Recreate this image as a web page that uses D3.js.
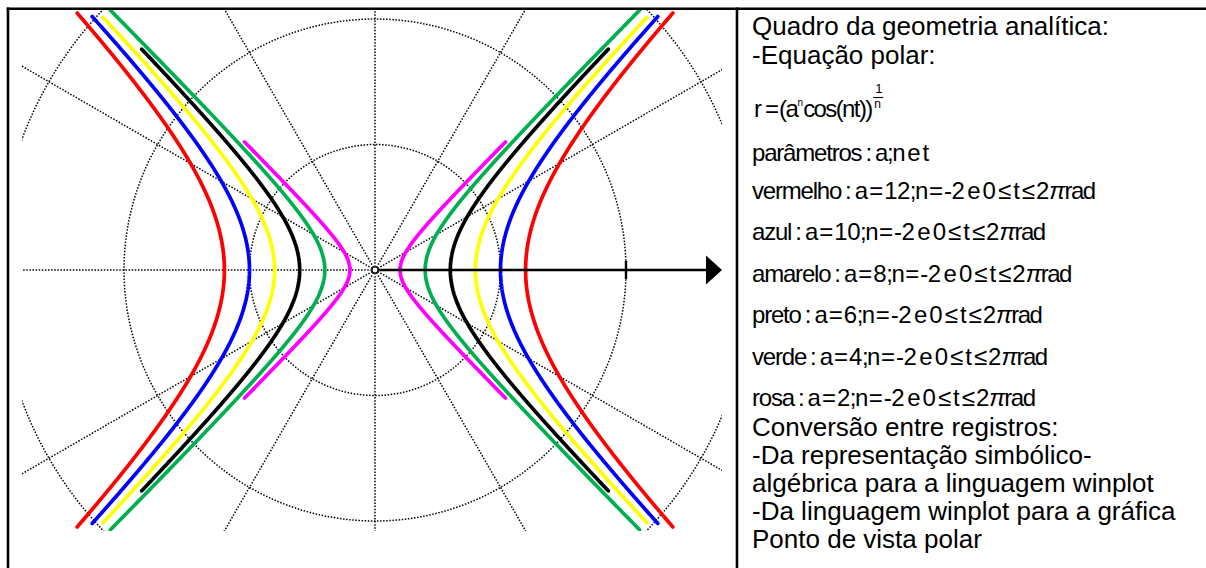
<!DOCTYPE html>
<html>
<head>
<meta charset="utf-8">
<script src="https://cdn.jsdelivr.net/npm/d3@7"></script>
<style>
  html, body { margin: 0; padding: 0; background: #fff; }
  svg { display: block; }
  text { font-family: "Liberation Sans", Arial, Helvetica, sans-serif; fill: #000; }
</style>
</head>
<body>
<svg id="chart" width="1206" height="568"></svg>
<script>
// Family of polar curves r = (a^n cos(n t))^(1/n), here with n = -2
const colorNames = ["vermelho", "azul", "amarelo", "preto", "verde", "rosa"];
const aValues    = [12, 10, 8, 6, 4, 2];
const nValue     = -2;
const colors     = ["#ff0000", "#0000ff", "#ffff00", "#000000", "#00b050", "#ff00ff"];
// largest |y| reached by each traced curve (units)
const yReach     = [20.5, 20.2, 20.2, 17.6, 20.75, 10.3];

// polar grid
const gridRadii  = [10, 20, 30];
const rayAngles  = d3.range(0, 360, 30);
const axisTick   = 20;

// text of the side panel
const headerLines = ["Quadro da geometria analítica:", "-Equação polar:"];
const footerLines = ["Conversão entre registros:", "-Da representação  simbólico-",
                     "algébrica para a linguagem winplot", "-Da linguagem winplot para a gráfica",
                     "Ponto de vista polar"];

const svg = d3.select("#chart");
const cx = 375, cy = 270, k = 12.55;
const x = d3.scaleLinear().domain([-1, 1]).range([cx - k, cx + k]);
const y = d3.scaleLinear().domain([-1, 1]).range([cy + k, cy - k]);
const px = u => x(u) - x(0);

// frame
const frame = svg.append("g").attr("stroke", "#000").attr("stroke-width", 2.6);
frame.append("line").attr("x1", 6.7).attr("x2", 1206).attr("y1", 8.8).attr("y2", 8.8);
frame.append("line").attr("x1", 8).attr("x2", 8).attr("y1", 7.5).attr("y2", 568);
frame.append("line").attr("x1", 737).attr("x2", 737).attr("y1", 7.5).attr("y2", 568);

// plotting window clip
svg.append("clipPath").attr("id", "plotClip")
  .append("rect").attr("x", 22).attr("y", 10).attr("width", 700).attr("height", 521);

const plot = svg.append("g").attr("clip-path", "url(#plotClip)");

// dotted polar grid
const grid = plot.append("g").attr("fill", "none").attr("stroke", "#000")
  .attr("stroke-width", 1.5).attr("stroke-dasharray", "1.5 1.6");
grid.selectAll("circle").data(gridRadii).join("circle")
  .attr("cx", x(0)).attr("cy", y(0)).attr("r", d => px(d));
grid.selectAll("line").data(rayAngles).join("line")
  .attr("x1", x(0)).attr("y1", y(0))
  .attr("x2", d => x(40 * Math.cos(d * Math.PI / 180)))
  .attr("y2", d => y(40 * Math.sin(d * Math.PI / 180)));

// polar axis with arrow and tick
const axis = svg.append("g");
axis.append("line").attr("x1", x(0) + 3).attr("x2", 708).attr("y1", y(0)).attr("y2", y(0))
  .attr("stroke", "#000").attr("stroke-width", 2.4);
axis.append("path").attr("d", `M706,${y(0) - 14.5}L722,${y(0)}L706,${y(0) + 14.5}Z`).attr("fill", "#000");
axis.append("line").attr("x1", x(axisTick)).attr("x2", x(axisTick))
  .attr("y1", y(0) - 9).attr("y2", y(0) + 9).attr("stroke", "#000").attr("stroke-width", 2.4);
axis.append("circle").attr("cx", x(0)).attr("cy", y(0)).attr("r", 3)
  .attr("fill", "#fff").attr("stroke", "#000").attr("stroke-width", 1.2);

// curves
const polarR = (a, n, t) => Math.pow(Math.pow(a, n) * Math.cos(n * t), 1 / n);
const line = d3.line().x(d => x(d[0])).y(d => y(d[1]));
const branches = [[-Math.PI / 4, Math.PI / 4], [3 * Math.PI / 4, 5 * Math.PI / 4]];
const curves = plot.append("g").attr("fill", "none").attr("stroke-width", 3.7)
  .attr("stroke-linecap", "round").attr("stroke-linejoin", "round");
aValues.forEach((a, i) => {
  branches.forEach(([t0, t1]) => {
    const pts = [];
    const N = 6000;
    for (let j = 1; j < N; j++) {
      const t = t0 + (t1 - t0) * j / N;
      const r = polarR(a, nValue, t);
      if (!isFinite(r)) continue;
      const p = [r * Math.cos(t), r * Math.sin(t)];
      if (Math.abs(p[1]) <= yReach[i]) pts.push(p);
    }
    curves.append("path").attr("d", line(pts)).attr("stroke", colors[i]);
  });
});

// side panel
const panel = svg.append("g");
const tx = 752;
headerLines.forEach((s, i) => {
  panel.append("text").attr("x", tx).attr("y", 35 + i * 29).attr("font-size", 26).text(s);
});

// equation r = (a^n cos(nt))^(1/n)
const eq = panel.append("text").attr("x", 754).attr("y", 117).attr("font-size", 24);
eq.append("tspan").text("r");
eq.append("tspan").attr("dx", 3).text("=");
eq.append("tspan").attr("dx", 0).style("letter-spacing", "-1.4px").text("(a");
eq.append("tspan").attr("dy", -11).attr("font-size", 10).text("n");
eq.append("tspan").attr("dy", 11).style("letter-spacing", "-1.6px").text("cos(nt))");
const eb = eq.node().getBBox();
const fx = eb.x + eb.width + 1;
panel.append("text").attr("x", fx + 2).attr("y", 93).attr("font-size", 13).text("1");
panel.append("line").attr("x1", fx).attr("x2", fx + 10).attr("y1", 97.5).attr("y2", 97.5)
  .attr("stroke", "#000").attr("stroke-width", 1.1);
panel.append("text").attr("x", fx + 1).attr("y", 108).attr("font-size", 12).text("n");

// parameter line
const pl = panel.append("text").attr("x", tx).attr("y", 161).attr("font-size", 24);
pl.append("tspan").style("letter-spacing", "-1.2px").text("parâmetros");
pl.append("tspan").attr("dx", 4).text(":");
pl.append("tspan").attr("dx", 3).style("letter-spacing", "-1.4px").text("a;n");
pl.append("tspan").attr("dx", 3).text("e");
pl.append("tspan").attr("dx", 2).text("t");

// one line per curve, built from the same arrays as the curves
colorNames.forEach((name, i) => {
  const t = panel.append("text").attr("x", tx).attr("y", 199 + i * 41.4).attr("font-size", 24);
  t.append("tspan").style("letter-spacing", "-1.2px").text(name);
  t.append("tspan").attr("dx", 4).text(":");
  t.append("tspan").attr("dx", 3).text("a");
  t.append("tspan").attr("dx", 1).text("=");
  t.append("tspan").attr("dx", 1).style("letter-spacing", "-0.5px").text(String(aValues[i]));
  t.append("tspan").attr("dx", 0).style("letter-spacing", "-1.5px").text(";n");
  t.append("tspan").attr("dx", 2).text("=");
  t.append("tspan").attr("dx", 1).style("letter-spacing", "-0.5px").text(String(nValue));
  t.append("tspan").attr("dx", 3).text("e");
  t.append("tspan").attr("dx", 2).text("0");
  t.append("tspan").attr("dx", 2).text("≤");
  t.append("tspan").attr("dx", 2).text("t");
  t.append("tspan").attr("dx", 2).text("≤");
  t.append("tspan").attr("dx", 1).text("2");
  t.append("tspan").attr("dx", 0).style("font-style", "italic").style("letter-spacing", "-1px").text("π");
  t.append("tspan").attr("dx", 0).style("letter-spacing", "-1.5px").text("rad");
});

footerLines.forEach((s, i) => {
  panel.append("text").attr("x", tx).attr("y", 436 + i * 28).attr("font-size", 26).text(s);
});
</script>
</body>
</html>
